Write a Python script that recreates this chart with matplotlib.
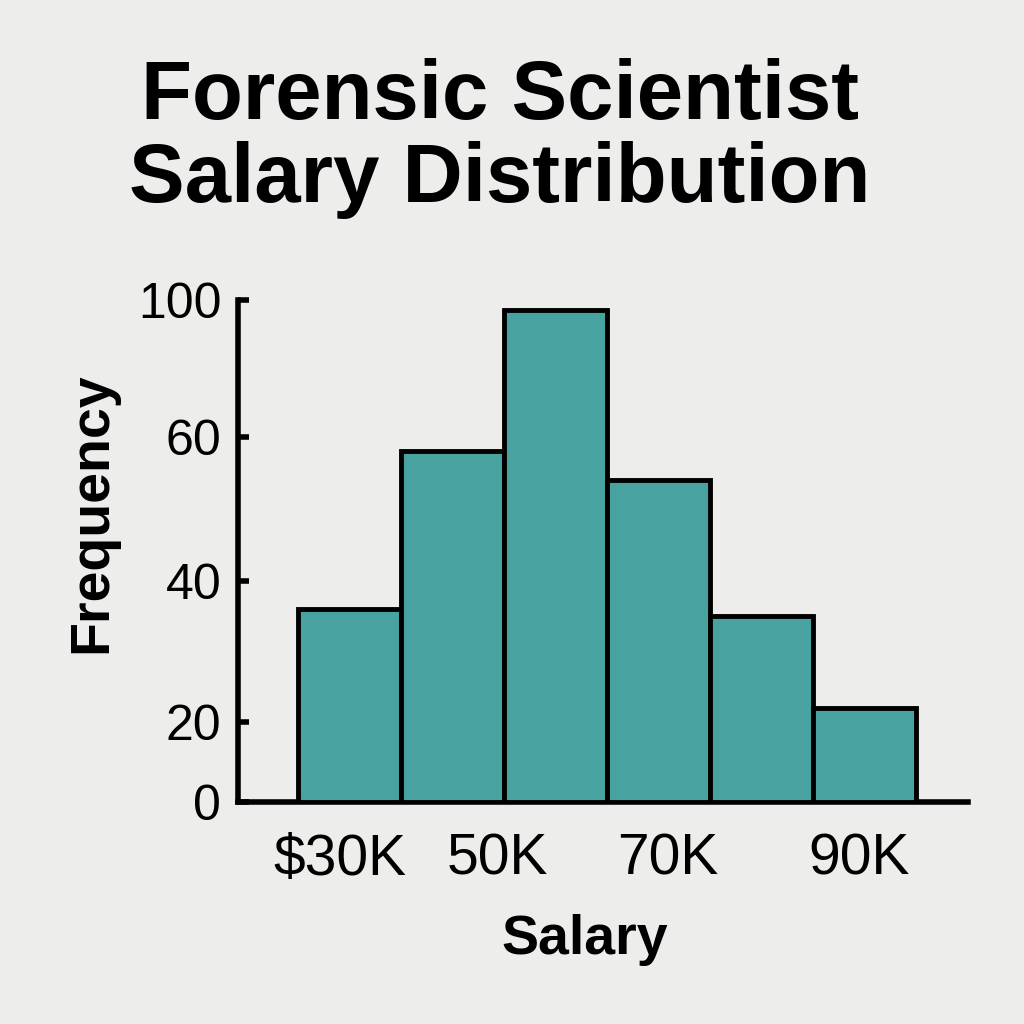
import numpy as np
import matplotlib
matplotlib.use("Agg")
import matplotlib.pyplot as plt

# salary bins (thousands) and counts
bin_edges = [30, 40, 50, 60, 70, 80, 90]
counts = [36, 58, 97, 54, 35, 22]

y_ticks = [0, 20, 40, 60, 100]
y_labels = ["0", "20", "40", "60", "100"]
x_ticks = [34.1, 49.4, 65.9, 84.4]
x_labels = ["$30K", "50K", "70K", "90K"]

# the y axis in the picture is not evenly spaced; map it piecewise
y_anchor = [0, 20, 40, 60, 100]
y_pos = [0, 16.0, 44.0, 72.8, 100]


def fwd(v):
    return np.interp(v, y_anchor, y_pos)


def inv(v):
    return np.interp(v, y_pos, y_anchor)


bg = "#ededeb"
teal = "#48a3a0"

fig = plt.figure(figsize=(10.24, 10.24), dpi=100, facecolor=bg)
ax = fig.add_axes([0.2324, 0.2168, 0.7129, 0.4902], facecolor=bg)

lefts = bin_edges[:-1]
widths = np.diff(bin_edges)
ax.bar(lefts, counts, width=widths, align="edge", color=teal,
       edgecolor="black", linewidth=3.5, zorder=3)

ax.set_yscale("function", functions=(fwd, inv))
ax.set_ylim(0, 100.4)
ax.set_xlim(24.2, 95.0)

ax.spines["top"].set_visible(False)
ax.spines["right"].set_visible(False)
ax.spines["left"].set_linewidth(4)
ax.spines["bottom"].set_linewidth(4)

ax.set_yticks(y_ticks)
ax.set_yticklabels(y_labels, fontsize=36, family="Liberation Sans")
ax.yaxis.set_minor_locator(matplotlib.ticker.NullLocator())
ax.tick_params(axis="y", direction="in", length=8, width=4, pad=12)

ax.set_xticks(x_ticks)
ax.set_xticklabels(x_labels, fontsize=41, family="Liberation Sans")
ax.tick_params(axis="x", length=0, pad=22)

fig.text(0.488, 0.865, "Forensic Scientist\nSalary Distribution",
         ha="center", va="center", fontsize=60, fontweight="bold",
         family="Liberation Sans", linespacing=1.08)
fig.text(0.09, 0.499, "Frequency", rotation=90, ha="center", va="center",
         fontsize=40, fontweight="bold", family="Liberation Sans")
fig.text(0.571, 0.082, "Salary", ha="center", va="center",
         fontsize=40, fontweight="bold", family="Liberation Sans")

fig.savefig("out.png", dpi=100, facecolor=bg)
